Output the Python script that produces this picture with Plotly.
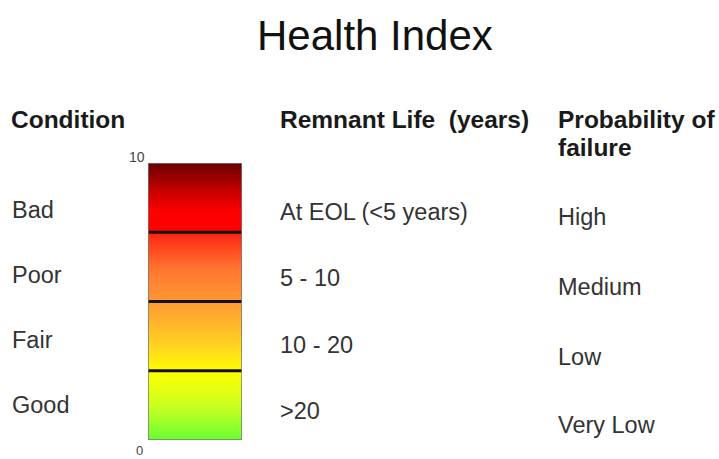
import plotly.graph_objects as go

# ---- data ----
title_text = "Health Index"
index_range = [0, 10]                 # health index scale (bottom -> top)
band_edges = [2.5, 5, 7.5]            # boundaries between condition bands
scale_tick_labels = ["0", "10"]

headers = ["Condition", "Remnant Life \u00a0(years)", "Probability of", "failure"]
conditions = ["Bad", "Poor", "Fair", "Good"]
remnant_life = ["At EOL (<5 years)", "5 - 10", "10 - 20", ">20"]
failure_prob = ["High", "Medium", "Low", "Very Low"]

W, H = 719, 459

def px(x):
    return x / W

def py(y):
    return 1 - y / H

colorscale = [
    [0.0, "#66ff33"],
    [0.12, "#c8ff20"],
    [0.25, "#ffff00"],
    [0.35, "#ffd022"],
    [0.5, "#ff9933"],
    [0.62, "#ff7530"],
    [0.75, "#ff2412"],
    [0.7501, "#ff0000"],
    [0.825, "#ff0000"],
    [0.91, "#c00000"],
    [1.0, "#680000"],
]

fig = go.Figure()
fig.add_trace(go.Heatmap(
    x=[0, 1],
    y=index_range,
    z=[[index_range[0], index_range[0]], [index_range[1], index_range[1]]],
    zmin=index_range[0], zmax=index_range[1],
    zsmooth="best",
    colorscale=colorscale,
    showscale=False,
    hoverinfo="skip",
))

shapes = []
for e in band_edges:
    shapes.append(dict(type="line", xref="x", yref="y", x0=0, x1=1, y0=e, y1=e,
                       line=dict(color="#111111", width=3)))
shapes.append(dict(type="rect", xref="x", yref="y", x0=0, x1=1,
                   y0=index_range[0], y1=index_range[1],
                   line=dict(color="#7a7a7a", width=1.5)))

font_fam = "Liberation Sans, Arial, sans-serif"
ann = []
# title
ann.append(dict(text=title_text, x=px(374.5), y=py(35), xref="paper", yref="paper",
                xanchor="center", yanchor="middle", showarrow=False,
                font=dict(family=font_fam, size=42, color="#111111")))
# headers
header_pos = [(9, 120), (277.5, 120), (556, 120), (556, 147)]
for t, (x, y) in zip(headers, header_pos):
    ann.append(dict(text=t, x=px(x), y=py(y), xref="paper", yref="paper",
                    xanchor="left", yanchor="middle", align="left", showarrow=False,
                    font=dict(family=font_fam, size=24.5, color="#1a1a1a", weight="bold")))
# columns
cond_y = [210, 274.7, 340, 405]
rem_y = [212, 278, 345, 411]
prob_y = [217, 286.7, 356.7, 425]
for col, xs, ys in [(conditions, 9.5, cond_y), (remnant_life, 277.5, rem_y), (failure_prob, 556, prob_y)]:
    for t, y in zip(col, ys):
        ann.append(dict(text=t, x=px(xs), y=py(y), xref="paper", yref="paper",
                        xanchor="left", yanchor="middle", showarrow=False,
                        font=dict(family=font_fam, size=23.5, color="#333333")))
# scale ticks
ann.append(dict(text=scale_tick_labels[1], x=0, y=index_range[1], xref="x", yref="y",
                xanchor="right", yanchor="bottom", xshift=-1, yshift=-4, showarrow=False,
                font=dict(family=font_fam, size=14, color="#444444")))
ann.append(dict(text=scale_tick_labels[0], x=0, y=index_range[0], xref="x", yref="y",
                xanchor="center", yanchor="top", xshift=-9, yshift=-1, showarrow=False,
                font=dict(family=font_fam, size=13, color="#444444")))

fig.update_layout(
    width=W, height=H,
    margin=dict(l=0, r=0, t=0, b=0),
    paper_bgcolor="white", plot_bgcolor="white",
    xaxis=dict(domain=[px(148), px(242)], range=[0, 1], visible=False, fixedrange=True),
    yaxis=dict(domain=[py(440), py(163)], range=index_range, visible=False, fixedrange=True),
    shapes=shapes,
    annotations=ann,
    showlegend=False,
)

fig.write_html(
    "out.html",
    config={"displayModeBar": False},
    post_script="document.body.style.margin='0';document.body.style.overflow='hidden';",
)
